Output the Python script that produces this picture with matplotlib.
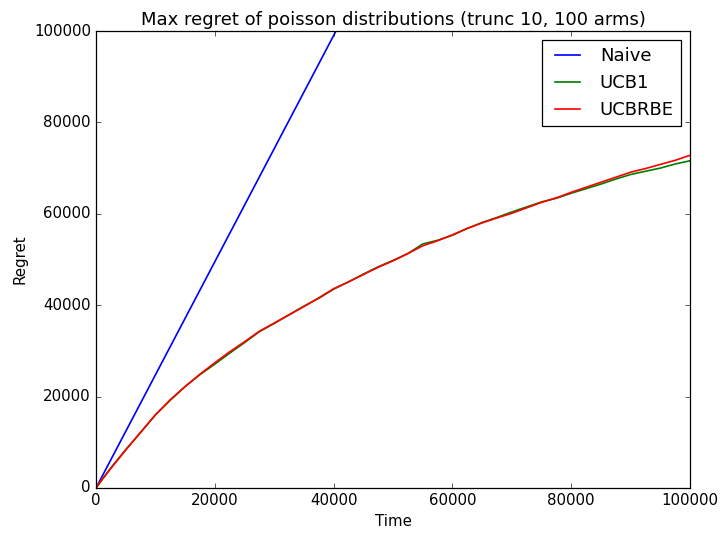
import matplotlib
matplotlib.use("Agg")
import matplotlib.pyplot as plt

plt.style.use("classic")

# Data (time and regret in thousands)
time_k = [0, 1, 2.5, 5, 7.5, 10, 12.5, 15, 17.5, 20, 22.5, 25, 27.5, 30, 32.5, 35, 37.5,
          40, 42.5, 45, 47.5, 50, 52.5, 55, 57.5, 60, 62.5, 65, 67.5, 70, 72.5, 75,
          77.5, 80, 82.5, 85, 87.5, 90, 92.5, 95, 97.5, 100]
ucbrbe_k = [0, 1.8, 4.3, 8.3, 12.2, 16.0, 19.3, 22.2, 24.9, 27.4, 29.8, 32.0, 34.3, 36.1, 37.9,
            39.7, 41.6, 43.6, 45.1, 46.7, 48.3, 49.7, 51.3, 53.0, 54.1, 55.4, 56.8, 58.0,
            59.1, 60.1, 61.3, 62.5, 63.5, 64.7, 65.8, 66.9, 68.0, 69.1, 69.9, 70.8, 71.7, 72.8]
ucb1_k = [0, 1.8, 4.4, 8.4, 12.1, 16.0, 19.2, 22.2, 24.8, 27.1, 29.5, 31.8, 34.2, 36.0, 37.9,
          39.8, 41.5, 43.5, 45.1, 46.8, 48.4, 49.8, 51.3, 53.4, 54.2, 55.3, 56.8, 58.1,
          59.2, 60.4, 61.5, 62.6, 63.4, 64.5, 65.5, 66.5, 67.6, 68.6, 69.3, 70.0, 70.9, 71.6]
naive_time = [0, 100000]
naive_regret = [0, 247500]

time = [t * 1000 for t in time_k]
ucbrbe = [v * 1000 for v in ucbrbe_k]
ucb1 = [v * 1000 for v in ucb1_k]

fig = plt.figure(figsize=(725 / 90, 538 / 90), dpi=90, facecolor="white")
ax = fig.add_axes([96 / 725, 50 / 538, 594 / 725, 457 / 538])

lw = 1.35
ax.plot(naive_time, naive_regret, color="b", lw=lw, label="Naive")
ax.plot(time, ucb1, color="g", lw=lw, label="UCB1")
ax.plot(time, ucbrbe, color="r", lw=lw, label="UCBRBE")

ax.set_xlim(0, 100000)
ax.set_ylim(0, 100000)
ax.set_xticks([0, 20000, 40000, 60000, 80000, 100000])
ax.set_yticks([0, 20000, 40000, 60000, 80000, 100000])
ax.ticklabel_format(useOffset=False, style="plain")
ax.set_xlabel("Time")
ax.set_ylabel("Regret")
ax.set_title("Max regret of poisson distributions (trunc 10, 100 arms)")
ax.legend(loc="upper right")

fig.savefig("out.png", dpi=90, facecolor="white")
